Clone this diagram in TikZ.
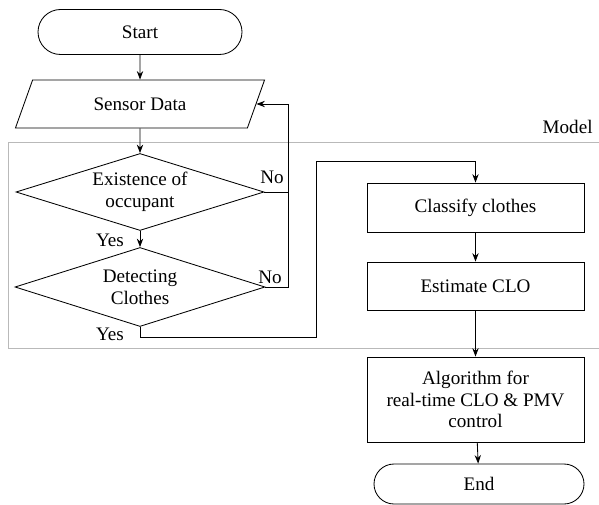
\documentclass[tikz,border=0pt]{standalone}
\usepackage{fontspec}
\setmainfont{Liberation Serif}
\usetikzlibrary{shapes.geometric, shapes.misc, arrows.meta}
\newcommand\pxu{0.025cm}

\begin{document}
\begin{tikzpicture}[x=0.025cm, y=-0.025cm, line width=0.6pt,
  >={Stealth[length=6pt, width=4.5pt]},
  every node/.style={font=\fontsize{13.6}{15.5}\selectfont, align=center, inner sep=0pt},
  term/.style={draw, rounded rectangle},
  proc/.style={draw, rectangle},
  io/.style={draw, trapezium, trapezium left angle=60, trapezium right angle=120,
    trapezium stretches=true},
  decide/.style={draw, diamond, shape aspect=3.2}]
  \useasboundingbox (0,0) rectangle (599,505);

  % Model frame
  \draw[gray!55, line width=0.5pt] (599,142) -- (8,142) -- (8,348) -- (599,348);
  \node[anchor=east] (model) at (593,127) {Model};

  % left column
  \node[term, minimum width={204*\pxu}, minimum height={45*\pxu}] (start) at (140,32) {Start};
  \node[io, minimum width={250*\pxu}, minimum height={48*\pxu}] (sensor) at (140,104) {Sensor Data};
  \node[decide, minimum width={248*\pxu}, minimum height={77*\pxu}] (occ) at (140,192) {Existence of\\occupant};
  \node[decide, minimum width={250*\pxu}, minimum height={79*\pxu}] (det) at (140,287) {Detecting\\Clothes};

  % right column
  \node[proc, minimum width={217*\pxu}, minimum height={49*\pxu}] (cls) at (475.5,207.5) {Classify clothes};
  \node[proc, minimum width={217*\pxu}, minimum height={48*\pxu}] (clo) at (475.5,286) {Estimate CLO};
  \node[proc, minimum width={217*\pxu}, minimum height={85*\pxu}] (algo) at (475.5,399.5) {Algorithm for\\real-time CLO \& PMV\\control};
  \node[term, minimum width={210*\pxu}, minimum height={40*\pxu}] (end) at (479,484) {End};

  \coordinate (back) at (288,192);
  \coordinate (bend) at (316,161);

  \draw[->] (start) -- (sensor);
  \draw[->] (sensor) -- (occ);
  \draw[->] (occ) -- (det);
  \draw[->] (occ.east) -- (back) |- (sensor.east);
  \draw (det.east) -| (back);
  \draw[->] (det.south) -- ++(0,10) -| (bend) -| (cls.north);
  \draw[->] (cls) -- (clo);
  \draw[->] (clo) -- (algo);
  \draw[->] (algo) -- (end);

  % branch labels
  \node (no1) at (272,177) {No};
  \node (no2) at (270,277) {No};
  \node (yes1) at (110,240) {Yes};
  \node (yes2) at (110,334) {Yes};
\end{tikzpicture}
\end{document}
